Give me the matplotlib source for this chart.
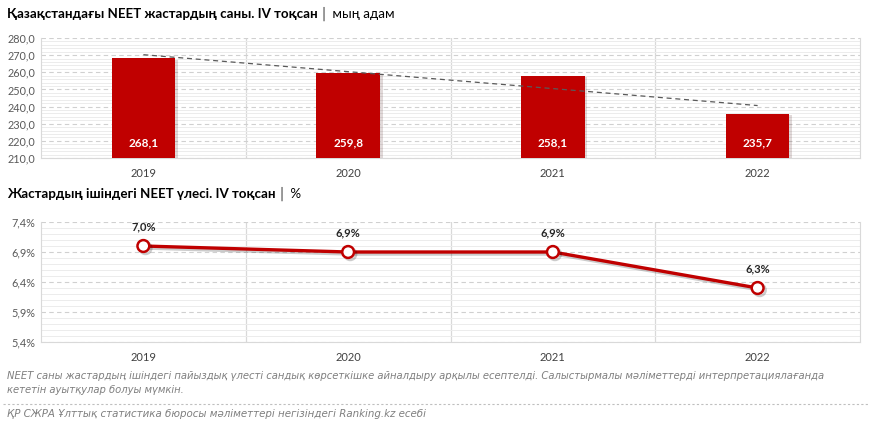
import matplotlib
matplotlib.use("Agg")
from matplotlib import pyplot as plt
from matplotlib.ticker import FuncFormatter, MultipleLocator, FixedLocator
import matplotlib.patheffects as pe
import numpy as np

years = ["2019", "2020", "2021", "2022"]
neet_count = [268.1, 259.8, 258.1, 235.7]     # мың адам
neet_share = [7.0, 6.9, 6.9, 6.3]              # %

title_top = "Қазақстандағы NEET жастардың саны. IV тоқсан"
unit_top = "мың адам"
title_bot = "Жастардың ішіндегі NEET үлесі. IV тоқсан"
unit_bot = "%"
note = ("NEET саны жастардың ішіндегі пайыздық үлесті сандық көрсеткішке айналдыру арқылы есептелді. "
        "Салыстырмалы мәліметтерді интерпретациялағанда\nкететін ауытқулар болуы мүмкін.")
source = "ҚР СЖРА Ұлттық статистика бюросы мәліметтері негізіндегі Ranking.kz есебі"

RED = "#C00000"
GRID = "#d9d9d9"
plt.rcParams['font.family'] = ['Lato', 'DejaVu Sans']

fig = plt.figure(figsize=(8.72, 4.25), dpi=100)
x = np.arange(len(years))

def style_axes(ax):
    ax.set_xlim(-0.5, len(years) - 0.5)
    ax.set_xticks(x)
    ax.set_xticklabels(years, fontsize=8, color="#404040")
    ax.xaxis.set_minor_locator(FixedLocator(x[:-1] + 0.5))
    ax.tick_params(axis="x", which="both", length=0, pad=7)
    ax.tick_params(axis="y", which="both", length=0, labelsize=7.8, labelcolor="#595959", pad=4)
    ax.grid(axis="x", which="minor", color=GRID, lw=0.9)
    ax.grid(axis="y", which="major", color="#d0d0d0", lw=0.8, ls=(0, (4, 3)))
    ax.grid(axis="y", which="minor", color="#ececec", lw=0.7)
    ax.set_axisbelow(True)
    for s in ["left", "right", "bottom"]:
        ax.spines[s].set_color(GRID)
    ax.spines["top"].set_visible(False)

# --- top: bar chart
ax1 = fig.add_axes([41/872, 1 - 158/425, 819/872, 120/425])
ax1.bar(x, neet_count, width=0.31, bottom=0, color=RED, zorder=3,
        path_effects=[pe.SimplePatchShadow(offset=(2, -1), alpha=0.15), pe.Normal()])
ax1.set_ylim(210, 280)
ax1.yaxis.set_major_locator(MultipleLocator(10))
ax1.yaxis.set_minor_locator(MultipleLocator(2))
ax1.yaxis.set_major_formatter(FuncFormatter(lambda v, p: f"{v:.1f}".replace(".", ",")))
style_axes(ax1)
# linear trend line, as in the source chart
k, b = np.polyfit(x, neet_count, 1)
ax1.plot(x, k * x + b, color="#595959", lw=0.9, ls=(0, (4, 3)), zorder=4)
for xi, v in zip(x, neet_count):
    ax1.text(xi, 218.7, f"{v:.1f}".replace(".", ","), ha="center", va="center",
             color="white", fontsize=8.5, fontweight="bold", zorder=5)

# --- bottom: line chart
ax2 = fig.add_axes([41/872, 1 - 342/425, 819/872, 120/425])
ax2.plot(x, neet_share, color=RED, lw=2.4, marker="o", ms=8.5, mfc="white",
         mec=RED, mew=1.8, zorder=4,
         path_effects=[pe.SimpleLineShadow(offset=(1.5, -1.5), alpha=0.2), pe.Normal()])
ax2.set_ylim(5.4, 7.4)
ax2.yaxis.set_major_locator(FixedLocator([5.4, 5.9, 6.4, 6.9, 7.4]))
ax2.yaxis.set_minor_locator(FixedLocator(np.arange(5.4, 7.41, 0.1)))
ax2.yaxis.set_major_formatter(FuncFormatter(lambda v, p: f"{v:.1f}%".replace(".", ",")))
style_axes(ax2)
for xi, v in zip(x, neet_share):
    ax2.annotate(f"{v:.1f}%".replace(".", ","), (xi, v), xytext=(0, 14),
                 textcoords="offset points", ha="center", va="center",
                 fontsize=8, fontweight="bold", color="#262626")

# --- titles and notes
t1 = fig.text(7/872, 1 - 14/425, title_top, fontsize=9.6, fontweight="bold", va="center", color="#000000")
ax1.annotate("│ " + unit_top, xy=(1, 0.5), xycoords=t1, xytext=(1, 0),
             textcoords="offset points", va="center", fontsize=9.6, color="#000000",
             annotation_clip=False)
t2 = fig.text(7/872, 1 - 194/425, title_bot, fontsize=9.6, fontweight="bold", va="center", color="#000000")
ax2.annotate("│ " + unit_bot, xy=(1, 0.5), xycoords=t2, xytext=(1, 0),
             textcoords="offset points", va="center", fontsize=9.6, color="#000000",
             annotation_clip=False)
fig.text(7/872, 1 - 383/425, note, fontsize=7.2, style="italic", color="#7f7f7f",
         va="center", linespacing=1.6, family=['Liberation Sans Narrow', 'DejaVu Sans'])
fig.add_artist(plt.Line2D([0.003, 0.997], [1 - 404/425] * 2, color="#bfbfbf", lw=0.8, ls=(0, (2, 2))))
fig.text(7/872, 1 - 414/425, source, fontsize=7.4, style="italic", color="#7f7f7f",
         va="center", family=['Liberation Sans Narrow', 'DejaVu Sans'])

fig.savefig("out.png", dpi=100)
